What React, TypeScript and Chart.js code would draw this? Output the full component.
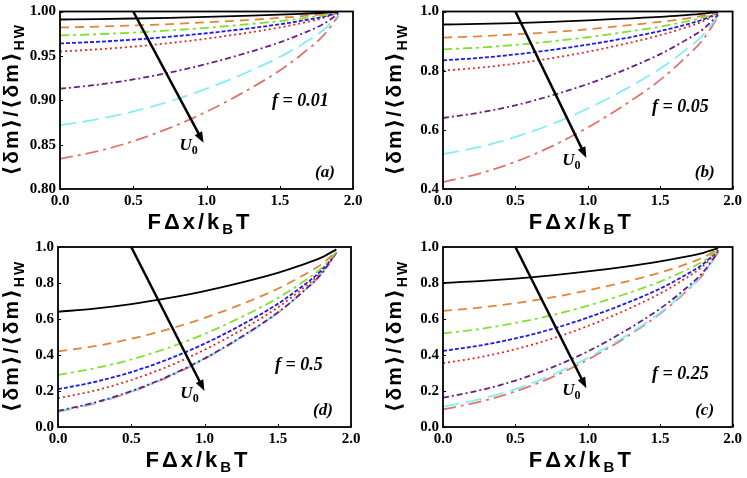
import React, { useEffect, useRef } from 'react';
import { Chart, registerables } from 'chart.js';

Chart.register(...registerables);

// ---------------- data ----------------
const xValues = [0, 0.25, 0.5, 0.75, 1.0, 1.25, 1.5, 1.65, 1.8, 1.9];
const xTicks = [0, 0.5, 1.0, 1.5, 2.0];
const xTickLabels = ['0.0', '0.5', '1.0', '1.5', '2.0'];

const yTicksA = [0.8, 0.85, 0.9, 0.95, 1.0];
const yTickLabelsA = ['0.80', '0.85', '0.90', '0.95', '1.00'];
const yTicksB = [0.4, 0.6, 0.8, 1.0];
const yTickLabelsB = ['0.4', '0.6', '0.8', '1.0'];
const yTicksCD = [0, 0.2, 0.4, 0.6, 0.8, 1.0];
const yTickLabelsCD = ['0.0', '0.2', '0.4', '0.6', '0.8', '1.0'];

// panel (a): f = 0.01
const aBlack = [0.991, 0.9915, 0.9921, 0.9929, 0.9939, 0.9951, 0.9964, 0.9974, 0.9986, 0.9997];
const aOrange = [0.982, 0.9829, 0.9842, 0.9858, 0.9878, 0.9901, 0.9928, 0.9948, 0.9971, 0.9995];
const aGreen = [0.973, 0.9744, 0.9762, 0.9787, 0.9816, 0.9852, 0.9892, 0.9922, 0.9957, 0.9992];
const aBlue = [0.964, 0.9658, 0.9683, 0.9716, 0.9755, 0.9802, 0.9856, 0.9896, 0.9942, 0.9989];
const aRed = [0.955, 0.9573, 0.9604, 0.9645, 0.9694, 0.9753, 0.982, 0.987, 0.9928, 0.9987];
const aPurple = [0.913, 0.9174, 0.9234, 0.9313, 0.9408, 0.9522, 0.9652, 0.9748, 0.9861, 0.9974];
const aCyan = [0.872, 0.8784, 0.8874, 0.8989, 0.913, 0.9296, 0.9488, 0.9629, 0.9795, 0.9962];
const aSalmon = [0.834, 0.8423, 0.8539, 0.8689, 0.8871, 0.9087, 0.9336, 0.9519, 0.9734, 0.995];

// panel (b): f = 0.05
const bBlack = [0.956, 0.958, 0.961, 0.965, 0.97, 0.976, 0.982, 0.987, 0.993, 0.999];
const bOrange = [0.912, 0.916, 0.923, 0.93, 0.94, 0.952, 0.965, 0.974, 0.986, 0.997];
const bGreen = [0.872, 0.878, 0.887, 0.899, 0.913, 0.93, 0.949, 0.963, 0.98, 0.996];
const bBlue = [0.835, 0.843, 0.855, 0.87, 0.888, 0.909, 0.934, 0.952, 0.974, 0.995];
const bRed = [0.8, 0.81, 0.824, 0.842, 0.864, 0.89, 0.92, 0.942, 0.968, 0.994];
const bPurple = [0.64, 0.658, 0.683, 0.716, 0.755, 0.802, 0.856, 0.896, 0.942, 0.989];
const bCyan = [0.518, 0.542, 0.576, 0.619, 0.672, 0.735, 0.807, 0.86, 0.923, 0.986];
const bSalmon = [0.423, 0.452, 0.492, 0.544, 0.608, 0.683, 0.769, 0.833, 0.908, 0.983];

// panel (d): f = 0.5
const dBlack = [0.64, 0.658, 0.683, 0.716, 0.755, 0.802, 0.856, 0.896, 0.942, 0.987];
const dOrange = [0.42, 0.449, 0.49, 0.542, 0.606, 0.681, 0.768, 0.832, 0.905, 0.976];
const dGreen = [0.29, 0.326, 0.375, 0.439, 0.517, 0.61, 0.716, 0.794, 0.884, 0.972];
const dBlue = [0.21, 0.25, 0.305, 0.376, 0.463, 0.566, 0.684, 0.771, 0.872, 0.97];
const dRed = [0.16, 0.202, 0.261, 0.336, 0.429, 0.538, 0.664, 0.756, 0.864, 0.969];
const dPurple = [0.09, 0.136, 0.199, 0.281, 0.381, 0.5, 0.636, 0.736, 0.853, 0.968];
const dCyan = [0.088, 0.134, 0.197, 0.28, 0.38, 0.498, 0.635, 0.736, 0.853, 0.968];
const dSalmon = [0.085, 0.131, 0.195, 0.277, 0.378, 0.497, 0.634, 0.735, 0.852, 0.967];

// panel (c): f = 0.25
const cBlack = [0.8, 0.81, 0.824, 0.842, 0.864, 0.89, 0.92, 0.942, 0.968, 0.994];
const cOrange = [0.645, 0.663, 0.688, 0.72, 0.759, 0.805, 0.858, 0.897, 0.943, 0.989];
const cGreen = [0.52, 0.544, 0.578, 0.621, 0.674, 0.736, 0.808, 0.861, 0.923, 0.986];
const cBlue = [0.423, 0.452, 0.492, 0.544, 0.608, 0.683, 0.769, 0.833, 0.908, 0.983];
const cRed = [0.355, 0.387, 0.432, 0.49, 0.561, 0.645, 0.742, 0.813, 0.897, 0.981];
const cPurple = [0.163, 0.203, 0.258, 0.33, 0.42, 0.53, 0.658, 0.752, 0.864, 0.975];
const cCyan = [0.113, 0.153, 0.211, 0.288, 0.385, 0.5, 0.636, 0.737, 0.855, 0.972];
const cSalmon = [0.098, 0.139, 0.198, 0.276, 0.374, 0.492, 0.63, 0.732, 0.852, 0.972];

// U0 arrows (data coordinates: start, end)
const arrowA = [[0.5, 1.0], [0.98, 0.852]];
const arrowB = [[0.5, 1.0], [0.99, 0.505]];
const arrowD = [[0.5, 1.0], [1.0, 0.2]];
const arrowC = [[0.5, 1.0], [0.99, 0.215]];

const fLabels = ['f = 0.01', 'f = 0.05', 'f = 0.5', 'f = 0.25'];
const fLabelPos = [[1.64, 0.899], [1.64, 0.677], [1.645, 0.34], [1.64, 0.29]];
const panelTags = ['(a)', '(b)', '(d)', '(c)'];

// ---------------- styles ----------------
const W = 747;
const H = 478;
const Y_AXIS_W = 48;
const X_AXIS_H = 30;

const seriesColors = ['#000000', '#E4843A', '#80E22C', '#1C1CE6', '#E42828', '#6A1F86', '#82EEF6', '#E0736D'];
const seriesDashes: number[][] = [[], [9, 6], [9, 4, 3, 4], [4, 2], [2, 3], [6, 3, 2, 3], [16, 7], [13, 5, 3, 5]];

const TICK_FONT = { family: '"Liberation Serif", "Times New Roman", serif', size: 15, weight: 'bold' as const, lineHeight: 1 };
const SANS = '"Liberation Sans", Arial, "DejaVu Sans", sans-serif';
const SERIF = '"Liberation Serif", "Times New Roman", serif';

type Panel = {
  rect: { left: number; top: number; right: number; bottom: number };
  yMin: number;
  yMax: number;
  yTicks: number[];
  yTickLabels: string[];
  series: number[][];
  arrow: number[][];
  fText: string;
  fPos: number[];
  tag: string;
  yTitleX: number;
};

const panels: Panel[] = [
  {
    rect: { left: 60, top: 7, right: 353, bottom: 189 },
    yMin: 0.8, yMax: 1.0, yTicks: yTicksA, yTickLabels: yTickLabelsA,
    series: [aBlack, aOrange, aGreen, aBlue, aRed, aPurple, aCyan, aSalmon],
    arrow: arrowA, fText: fLabels[0], fPos: fLabelPos[0], tag: panelTags[0], yTitleX: 18,
  },
  {
    rect: { left: 443, top: 7, right: 736, bottom: 189 },
    yMin: 0.4, yMax: 1.0, yTicks: yTicksB, yTickLabels: yTickLabelsB,
    series: [bBlack, bOrange, bGreen, bBlue, bRed, bPurple, bCyan, bSalmon],
    arrow: arrowB, fText: fLabels[1], fPos: fLabelPos[1], tag: panelTags[1], yTitleX: 401,
  },
  {
    rect: { left: 58, top: 247, right: 351, bottom: 427 },
    yMin: 0, yMax: 1.0, yTicks: yTicksCD, yTickLabels: yTickLabelsCD,
    series: [dBlack, dOrange, dGreen, dBlue, dRed, dPurple, dCyan, dSalmon],
    arrow: arrowD, fText: fLabels[2], fPos: fLabelPos[2], tag: panelTags[2], yTitleX: 18,
  },
  {
    rect: { left: 443, top: 247, right: 736, bottom: 427 },
    yMin: 0, yMax: 1.0, yTicks: yTicksCD, yTickLabels: yTickLabelsCD,
    series: [cBlack, cOrange, cGreen, cBlue, cRed, cPurple, cCyan, cSalmon],
    arrow: arrowC, fText: fLabels[3], fPos: fLabelPos[3], tag: panelTags[3], yTitleX: 401,
  },
];

type Part = { t: string; font: string; dy: number };

function spacedWidth(ctx: CanvasRenderingContext2D, parts: Part[], spacing: number) {
  let w = 0;
  let n = 0;
  for (const p of parts) {
    ctx.font = p.font;
    for (const ch of Array.from(p.t)) {
      w += ctx.measureText(ch).width;
      n++;
    }
  }
  return w + spacing * Math.max(0, n - 1);
}

function drawSpaced(ctx: CanvasRenderingContext2D, parts: Part[], spacing: number, cx: number, baseline: number) {
  const total = spacedWidth(ctx, parts, spacing);
  let x = cx - total / 2;
  ctx.textAlign = 'left';
  ctx.textBaseline = 'alphabetic';
  for (const p of parts) {
    ctx.font = p.font;
    for (const ch of Array.from(p.t)) {
      ctx.fillText(ch, x, baseline + p.dy);
      x += ctx.measureText(ch).width + spacing;
    }
  }
}

function makeDecor(panel: Panel) {
  return {
    id: 'decor',
    afterDraw(chart: any) {
      const ctx: CanvasRenderingContext2D = chart.ctx;
      const { left, top, right, bottom } = chart.chartArea;
      const xs = chart.scales.x;
      const ys = chart.scales.y;
      ctx.save();
      ctx.fillStyle = '#000';
      ctx.strokeStyle = '#000';

      // inward ticks
      ctx.lineWidth = 1;
      ctx.beginPath();
      for (const v of panel.yTicks) {
        const py = Math.round(ys.getPixelForValue(v)) + 0.5;
        ctx.moveTo(left, py);
        ctx.lineTo(left + 3, py);
      }
      for (const v of xTicks) {
        const px = Math.round(xs.getPixelForValue(v)) + 0.5;
        ctx.moveTo(px, bottom);
        ctx.lineTo(px, bottom - 3);
      }
      ctx.stroke();

      // frame
      ctx.lineWidth = 1.8;
      ctx.strokeRect(left, top, right - left, bottom - top);

      // arrow
      const x0 = xs.getPixelForValue(panel.arrow[0][0]);
      const y0 = ys.getPixelForValue(panel.arrow[0][1]);
      const x1 = xs.getPixelForValue(panel.arrow[1][0]);
      const y1 = ys.getPixelForValue(panel.arrow[1][1]);
      const ang = Math.atan2(y1 - y0, x1 - x0);
      const headLen = 11;
      const headHalf = 4.2;
      const bx = x1 - headLen * Math.cos(ang);
      const by = y1 - headLen * Math.sin(ang);
      ctx.lineWidth = 2.5;
      ctx.beginPath();
      ctx.moveTo(x0, y0);
      ctx.lineTo(bx + 2 * Math.cos(ang), by + 2 * Math.sin(ang));
      ctx.stroke();
      ctx.beginPath();
      ctx.moveTo(x1, y1);
      ctx.lineTo(bx + headHalf * Math.sin(ang), by - headHalf * Math.cos(ang));
      ctx.lineTo(bx - headHalf * Math.sin(ang), by + headHalf * Math.cos(ang));
      ctx.closePath();
      ctx.fill();

      // U0 label
      const uParts: Part[] = [
        { t: 'U', font: `italic bold 17px ${SERIF}`, dy: 0 },
        { t: '0', font: `bold 12px ${SERIF}`, dy: 4 },
      ];
      drawSpaced(ctx, uParts, 0, x1 - 15, y1 + 7);

      // f label
      const fx = xs.getPixelForValue(panel.fPos[0]);
      const fy = ys.getPixelForValue(panel.fPos[1]);
      ctx.font = `italic bold 18px ${SERIF}`;
      ctx.textAlign = 'center';
      ctx.textBaseline = 'middle';
      ctx.fillText(panel.fText, fx, fy);

      // panel tag
      ctx.font = `italic bold 17px ${SERIF}`;
      ctx.fillText(panel.tag, right - 28, bottom - 16);

      // x title
      const xParts: Part[] = [
        { t: 'F\u0394x/k', font: `bold 22px ${SANS}`, dy: 0 },
        { t: 'B', font: `bold 15px ${SANS}`, dy: 5 },
        { t: 'T', font: `bold 22px ${SANS}`, dy: 0 },
      ];
      drawSpaced(ctx, xParts, 3, (left + right) / 2 - 8, bottom + 40);

      // y title (rotated)
      ctx.translate(panel.yTitleX, (top + bottom) / 2);
      ctx.rotate(-Math.PI / 2);
      const yParts: Part[] = [
        { t: '\u27E8\u03B4m\u27E9/\u27E8\u03B4m\u27E9', font: `bold 21px ${SANS}`, dy: 0 },
        { t: 'HW', font: `bold 14px ${SANS}`, dy: 6 },
      ];
      drawSpaced(ctx, yParts, 2, 0, 0);
      ctx.restore();
    },
  };
}

function PanelChart({ panel }: { panel: Panel }) {
  const ref = useRef<HTMLCanvasElement | null>(null);
  useEffect(() => {
    if (!ref.current) return;
    const { rect } = panel;
    const chart = new Chart(ref.current, {
      type: 'line',
      data: {
        datasets: panel.series.map((s, i) => ({
          data: s.map((v, j) => ({ x: xValues[j], y: v })),
          borderColor: seriesColors[i],
          borderWidth: 1.8,
          borderDash: seriesDashes[i],
          cubicInterpolationMode: 'monotone' as const,
          pointRadius: 0,
          fill: false,
        })),
      },
      options: {
        responsive: false,
        animation: false,
        events: [],
        layout: {
          padding: {
            left: rect.left - Y_AXIS_W,
            top: rect.top,
            right: W - rect.right,
            bottom: H - rect.bottom - X_AXIS_H,
          },
        },
        plugins: {
          legend: { display: false },
          tooltip: { enabled: false },
          title: { display: false },
        },
        scales: {
          x: {
            type: 'linear',
            min: 0,
            max: 2,
            grid: { display: false, drawTicks: false },
            border: { display: false },
            ticks: {
              color: '#000',
              font: TICK_FONT,
              padding: 5,
              maxRotation: 0,
              autoSkip: false,
              callback: (_v: any, i: number) => xTickLabels[i],
            },
            afterBuildTicks: (s: any) => {
              s.ticks = xTicks.map((v) => ({ value: v }));
            },
            afterFit: (s: any) => {
              s.height = X_AXIS_H;
            },
          },
          y: {
            type: 'linear',
            min: panel.yMin,
            max: panel.yMax,
            grid: { display: false, drawTicks: false },
            border: { display: false },
            ticks: {
              color: '#000',
              font: TICK_FONT,
              padding: 4,
              autoSkip: false,
              callback: (_v: any, i: number) => panel.yTickLabels[i],
            },
            afterBuildTicks: (s: any) => {
              s.ticks = panel.yTicks.map((v) => ({ value: v }));
            },
            afterFit: (s: any) => {
              s.width = Y_AXIS_W;
            },
          },
        },
      },
      plugins: [makeDecor(panel)],
    });
    return () => chart.destroy();
  }, [panel]);
  return (
    <canvas
      ref={ref}
      width={W}
      height={H}
      style={{ position: 'absolute', left: 0, top: 0, width: W, height: H }}
    />
  );
}

export default function App() {
  return (
    <div style={{ position: 'fixed', left: 0, top: 0, width: W, height: H, background: '#fff' }}>
      {panels.map((p, i) => (
        <PanelChart key={i} panel={p} />
      ))}
    </div>
  );
}
